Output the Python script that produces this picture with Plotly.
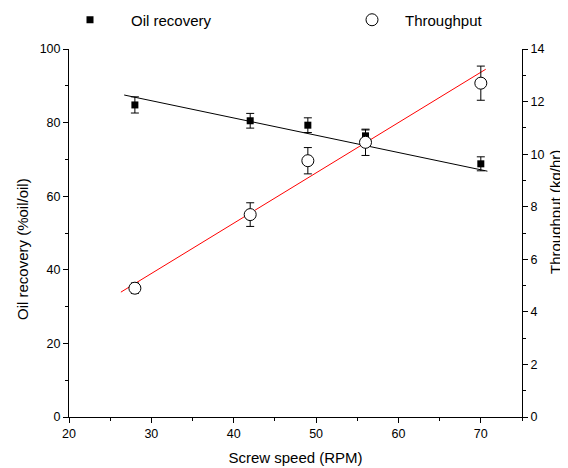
import plotly.graph_objects as go

speed = [28, 42, 49, 56, 70]
oil = [84.8, 80.5, 79.3, 76.4, 68.8]
oil_err = [2.2, 2.0, 2.0, 1.6, 1.9]
thr = [4.9, 7.7, 9.75, 10.45, 12.7]
thr_err = [0.2, 0.45, 0.5, 0.5, 0.65]
fit_x_oil = [26.7, 70.8]
fit_oil = [87.5, 66.8]
fit_x_thr = [26.3, 70.6]
fit_thr = [4.75, 13.23]

FONT = "Liberation Sans, Arial, sans-serif"

fig = go.Figure()
fig.add_trace(go.Scatter(x=fit_x_oil, y=fit_oil, mode="lines",
                         line=dict(color="black", width=1), showlegend=False, yaxis="y"))
fig.add_trace(go.Scatter(x=fit_x_thr, y=fit_thr, mode="lines",
                         line=dict(color="red", width=1), showlegend=False, yaxis="y2"))
fig.add_trace(go.Scatter(x=speed, y=oil, mode="markers", name="Oil recovery",
                         marker=dict(symbol="square", size=7, color="black"),
                         error_y=dict(type="data", array=oil_err, color="black", thickness=1, width=4),
                         yaxis="y", legend="legend"))
fig.add_trace(go.Scatter(x=speed, y=thr, mode="markers", name="Throughput",
                         marker=dict(symbol="circle", size=12, color="white",
                                     line=dict(color="black", width=1)),
                         error_y=dict(type="data", array=thr_err, color="black", thickness=1, width=4),
                         yaxis="y2", legend="legend2"))

axis_common = dict(showline=True, linecolor="black", linewidth=1, ticks="outside",
                   ticklen=5, tickcolor="black", showgrid=False, zeroline=False,
                   tickfont=dict(family=FONT, size=12.5, color="black"),
                   title_font=dict(family=FONT, size=15, color="black"))

title_font = dict(family=FONT, size=15, color="black")

fig.update_layout(
    width=568, height=468,
    margin=dict(l=61, r=54, t=41, b=59, autoexpand=False),
    plot_bgcolor="white", paper_bgcolor="white",
    xaxis=dict(range=[20, 75], dtick=10, tick0=20,
               minor=dict(dtick=5, ticks="outside", ticklen=3, tickcolor="black"),
               title=dict(text="Screw speed (RPM)", standoff=12), **axis_common),
    yaxis=dict(range=[0, 100], dtick=20,
               minor=dict(dtick=10, ticks="outside", ticklen=3, tickcolor="black"),
               **axis_common),
    yaxis2=dict(range=[0, 14], dtick=2, overlaying="y", side="right", anchor="x",
                minor=dict(dtick=1, ticks="outside", ticklen=3, tickcolor="black"),
                **axis_common),
    legend=dict(x=41 / 568, y=1 - 12 / 468, xref="container", yref="container",
                xanchor="left", yanchor="middle", itemwidth=72,
                font=dict(family=FONT, size=15, color="black"), bgcolor="rgba(0,0,0,0)"),
    legend2=dict(x=331 / 568, y=1 - 12 / 468, xref="container", yref="container",
                 xanchor="left", yanchor="middle", itemwidth=56,
                 font=dict(family=FONT, size=15, color="black"), bgcolor="rgba(0,0,0,0)"),
    annotations=[
        dict(text="Oil recovery (%oil/oil)", xref="paper", yref="paper", x=0, y=0.5,
             xshift=-47, yshift=-16, textangle=-90, showarrow=False,
             xanchor="center", yanchor="middle", font=title_font),
        dict(text="Throughput (kg/hr)", xref="paper", yref="paper", x=1, y=0.5,
             xshift=33, yshift=21, textangle=-90, showarrow=False,
             xanchor="center", yanchor="middle", font=title_font),
    ],
)

fig.write_html("out.html")
